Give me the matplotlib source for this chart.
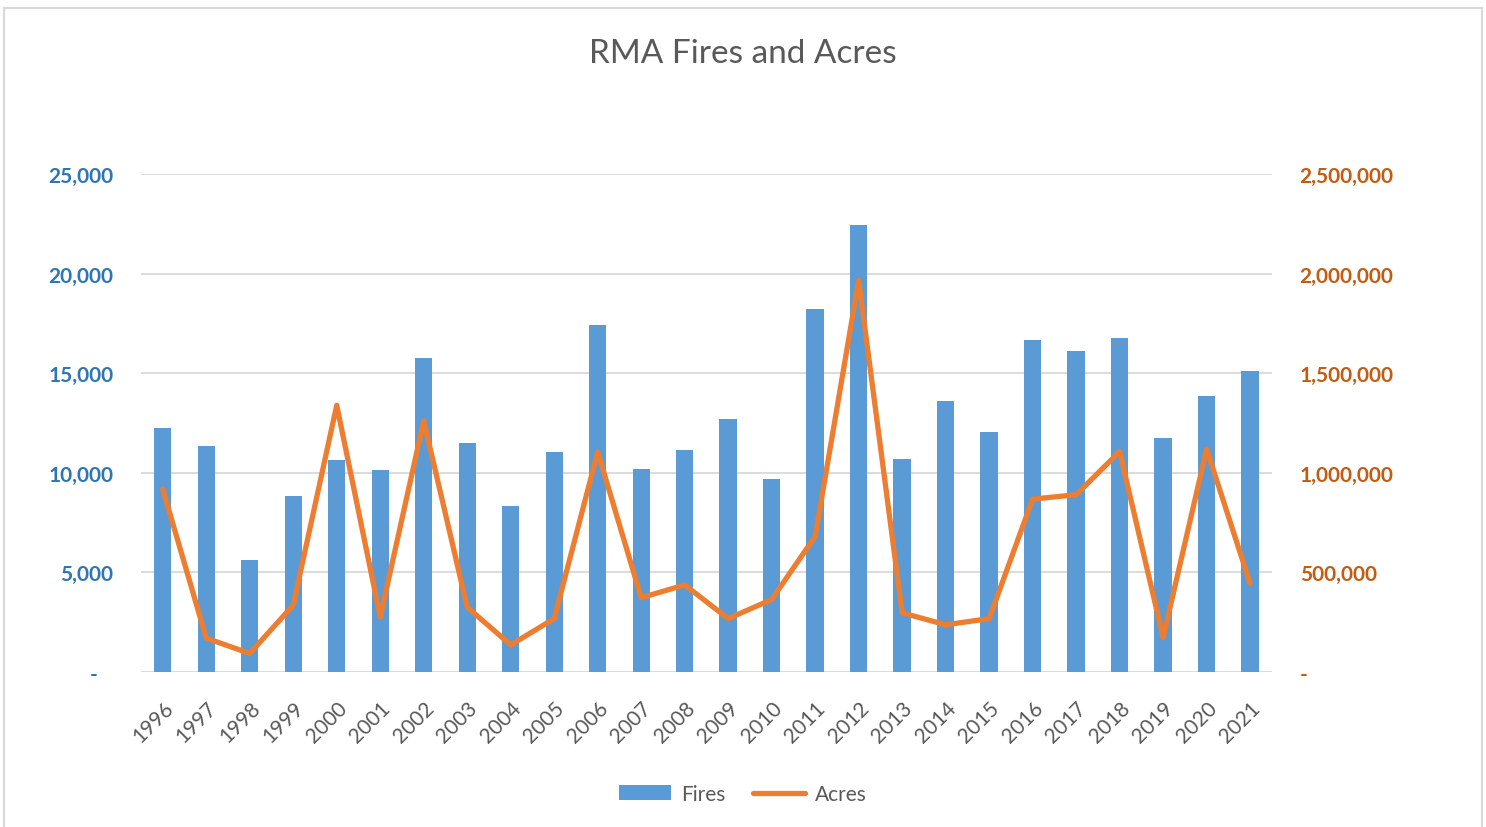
import matplotlib
matplotlib.use('Agg')
import matplotlib.pyplot as plt
from matplotlib.patches import Rectangle, Patch
from matplotlib.lines import Line2D
from matplotlib.ticker import FuncFormatter

plt.rcParams['font.family'] = ['Lato', 'DejaVu Sans']

# data
years = ['1996', '1997', '1998', '1999', '2000', '2001', '2002', '2003', '2004',
         '2005', '2006', '2007', '2008', '2009', '2010', '2011', '2012', '2013',
         '2014', '2015', '2016', '2017', '2018', '2019', '2020', '2021']
fires = [12250, 11350, 5600, 8850, 10650, 10150, 15750, 11500, 8350,
         11050, 17400, 10200, 11150, 12700, 9700, 18200, 22450, 10700,
         13600, 12050, 16650, 16100, 16750, 11750, 13850, 15100]
acres = [918000, 170000, 93000, 336000, 1339000, 276000, 1261000, 325000, 136000,
         268000, 1105000, 373000, 437000, 268000, 364000, 681000, 1966000, 297000,
         237000, 268000, 868000, 890000, 1107000, 173000, 1119000, 444000]

bar_color  = '#5b9bd5'
line_color = '#ed7d31'
grid_color = '#d9d9d9'
text_gray  = '#595959'

fig = plt.figure(figsize=(14.86, 8.28), dpi=100)
ax = fig.add_axes([0.0949, 0.1872, 0.761, 0.6014])
ax2 = ax.twinx()

x = list(range(len(years)))

# bars (left axis) and line (right axis)
ax.bar(x, fires, width=0.4, color=bar_color, zorder=2)
ax2.plot(x, acres, color=line_color, lw=3.8, solid_joinstyle='round', solid_capstyle='round')

ax.set_xlim(-0.5, len(years) - 0.5)
ax.set_ylim(0, 25000)
ax2.set_ylim(0, 2500000)
ax.set_yticks([0, 5000, 10000, 15000, 20000, 25000])
ax2.set_yticks([0, 500000, 1000000, 1500000, 2000000, 2500000])

# zero shows as a dash, like the accounting format
ax.yaxis.set_major_formatter(FuncFormatter(lambda v, p: '-   ' if v == 0 else f'{v:,.0f}'))
ax2.yaxis.set_major_formatter(FuncFormatter(lambda v, p: '-' if v == 0 else f'{v:,.0f}'))

ax.tick_params(axis='y', length=0, pad=20, labelsize=15, labelcolor='#2e75b6')
ax2.tick_params(axis='y', length=0, pad=20, labelsize=15, labelcolor='#c55a11')
for lbl in ax.get_yticklabels():
    lbl.set_fontweight('bold')
for lbl in ax2.get_yticklabels():
    lbl.set_fontweight('bold')

ax.set_xticks(x)
ax.set_xticklabels(years, rotation=45, ha='right', va='top', rotation_mode='anchor',
                   fontsize=15, color=text_gray)
ax.tick_params(axis='x', length=0, pad=18)

# gridlines
ax.yaxis.grid(True, color=grid_color, lw=1.3, zorder=0)
ax.set_axisbelow(True)
for a in (ax, ax2):
    for s in ('top', 'left', 'right', 'bottom'):
        a.spines[s].set_visible(False)

# title
fig.text(0.5, 0.935, 'RMA Fires and Acres', ha='center', va='center', fontsize=24, color=text_gray)

# legend
handles = [Patch(facecolor=bar_color, edgecolor='none'),
           Line2D([0], [0], color=line_color, lw=3.8, solid_capstyle='round')]
fig.legend(handles, ['Fires', 'Acres'], loc='center', bbox_to_anchor=(0.5, 0.04), ncol=2,
           frameon=False, fontsize=15, handlelength=2.5, handleheight=0.7,
           handletextpad=0.5, columnspacing=1.3, labelcolor=text_gray)

# chart border
fig.patches.append(Rectangle((4 / 1486, -0.01), 1478 / 1486, 1.0 - 9 / 828 + 0.01,
                             transform=fig.transFigure, fill=False,
                             edgecolor=grid_color, lw=1.5, clip_on=False))

fig.savefig('out.png', dpi=100)
